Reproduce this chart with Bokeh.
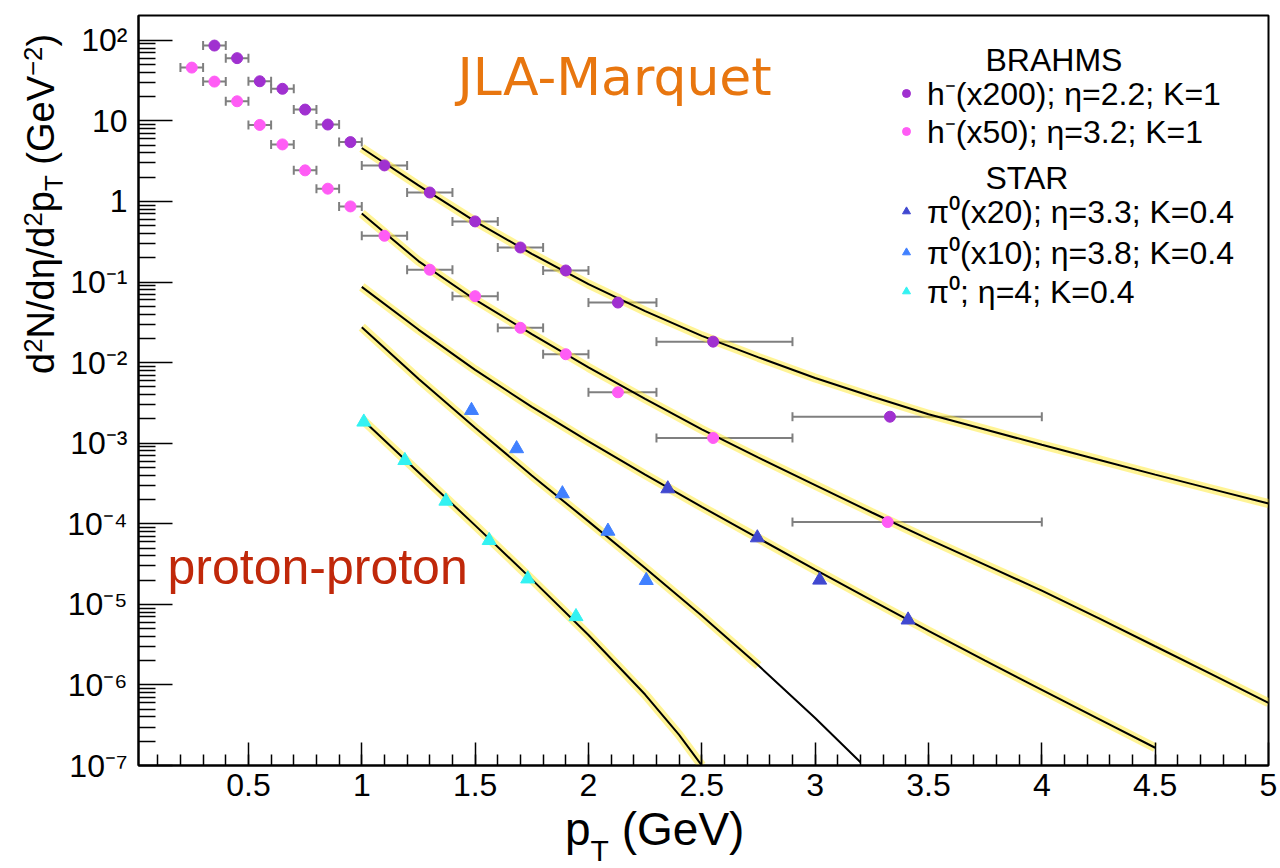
import numpy as np
from math import pi
from bokeh.plotting import figure
from bokeh.layouts import row, column
from bokeh.models import (Range1d, FixedTicker, NumeralTickFormatter, CustomJSTickFormatter,
                          ColumnDataSource, Whisker, TeeHead, Label, Legend, LegendItem, Div)
from bokeh.embed import file_html
from bokeh.resources import INLINE

# ---------------- data ----------------
# BRAHMS h- (x200), eta=2.2
h200_pt = [0.35, 0.45, 0.55, 0.65, 0.75, 0.85, 0.95, 1.1, 1.3, 1.5, 1.7, 1.9, 2.13, 2.55, 3.33]
h200_lo = [0.3, 0.4, 0.5, 0.6, 0.7, 0.8, 0.9, 1.0, 1.2, 1.4, 1.6, 1.8, 2.0, 2.3, 2.9]
h200_hi = [0.4, 0.5, 0.6, 0.7, 0.8, 0.9, 1.0, 1.2, 1.4, 1.6, 1.8, 2.0, 2.3, 2.9, 4.0]
h200_y = [86, 60, 31, 25, 13.8, 9.0, 5.45, 2.8, 1.29, 0.565, 0.268, 0.139, 0.0556, 0.0182, 0.00213]

# BRAHMS h- (x50), eta=3.2
h50_pt = [0.25, 0.35, 0.45, 0.55, 0.65, 0.75, 0.85, 0.95, 1.1, 1.3, 1.5, 1.7, 1.9, 2.13, 2.55, 3.32]
h50_lo = [0.2, 0.3, 0.4, 0.5, 0.6, 0.7, 0.8, 0.9, 1.0, 1.2, 1.4, 1.6, 1.8, 2.0, 2.3, 2.9]
h50_hi = [0.3, 0.4, 0.5, 0.6, 0.7, 0.8, 0.9, 1.0, 1.2, 1.4, 1.6, 1.8, 2.0, 2.3, 2.9, 4.0]
h50_y = [45.8, 30.7, 17.5, 8.9, 5.1, 2.43, 1.44, 0.867, 0.375, 0.142, 0.0667, 0.027, 0.0127, 0.00428, 0.00116, 1.05e-4]

# STAR pi0 (x20), eta=3.3
pi20_pt = [2.35, 2.745, 3.02, 3.41]
pi20_y = [2.72e-4, 6.7e-5, 2.0e-5, 6.4e-6]
# STAR pi0 (x10), eta=3.8
pi10_pt = [1.484, 1.683, 1.885, 2.086, 2.255]
pi10_y = [2.55e-3, 8.55e-4, 2.36e-4, 8.1e-5, 1.98e-5]
# STAR pi0, eta=4
pi1_pt = [1.009, 1.19, 1.371, 1.562, 1.732, 1.945]
pi1_y = [1.83e-3, 6.1e-4, 1.91e-4, 6.2e-5, 2.07e-5, 7.05e-6]

# theory curves (JLA-Marquet)
c1_x = [1.0, 1.25, 1.5, 1.75, 2.0, 2.25, 2.5, 2.75, 3.0, 3.25, 3.5, 3.75, 4.0, 4.25, 4.5, 4.75, 5.0]
c1_y = [4.6, 1.58, 0.565, 0.224, 0.0942, 0.0436, 0.0215, 0.0116, 0.00644, 0.0038, 0.00229,
        0.00148, 9.55e-4, 6.24e-4, 4.07e-4, 2.69e-4, 1.78e-4]
c2_x = [1.0, 1.25, 1.5, 1.75, 2.0, 2.25, 2.5, 2.75, 3.0, 3.25, 3.5, 3.75, 4.0, 4.25, 4.5, 4.75, 5.0]
c2_y = [0.708, 0.182, 0.0603, 0.0226, 8.7e-3, 3.55e-3, 1.48e-3, 6.6e-4, 3.02e-4, 1.38e-4, 6.46e-5,
        3.09e-5, 1.48e-5, 6.76e-6, 3.02e-6, 1.35e-6, 6.0e-7]
c3_x = [1.0, 1.25, 1.5, 1.75, 2.0, 2.25, 2.5, 2.75, 3.0, 3.25, 3.5, 3.75, 4.0, 4.25, 4.5]
c3_y = [0.087, 0.0257, 8.13e-3, 2.82e-3, 1.05e-3, 4.07e-4, 1.62e-4, 6.6e-5, 2.69e-5, 1.12e-5, 4.68e-6,
        2.0e-6, 8.7e-7, 3.8e-7, 1.66e-7]
c4_x = [1.0, 1.25, 1.5, 1.75, 2.0, 2.25, 2.5, 2.75, 3.0, 3.2]
c4_y = [0.0275, 6.3e-3, 1.55e-3, 3.98e-4, 1.07e-4, 2.82e-5, 7.24e-6, 1.74e-6, 3.89e-7, 1.1e-7]
c5_x = [1.0, 1.25, 1.5, 1.75, 2.0, 2.25, 2.4, 2.5]
c5_y = [2.0e-3, 4.37e-4, 9.55e-5, 2.04e-5, 4.17e-6, 7.6e-7, 2.4e-7, 1.0e-7]

x_major_ticks = [0.5, 1, 1.5, 2, 2.5, 3, 3.5, 4, 4.5, 5]
y_major_ticks = [1e-7, 1e-6, 1e-5, 1e-4, 1e-3, 1e-2, 1e-1, 1, 10, 100]

# ---------------- figure ----------------
FONT = "Liberation Sans"
p = figure(width=1218, height=812, y_axis_type="log",
           x_range=Range1d(0.015, 5.0), y_range=Range1d(1e-7, 203),
           output_backend="svg", toolbar_location=None, margin=0,
           min_border_left=76, min_border_right=12, min_border_top=15, min_border_bottom=47)
p.grid.visible = False
p.outline_line_color = "black"
p.outline_line_width = 2
p.background_fill_color = "white"
p.border_fill_color = "white"

x_minor = [round(0.1 * i, 1) for i in range(1, 50)]
p.xaxis.ticker = FixedTicker(ticks=x_major_ticks, minor_ticks=x_minor)
p.xaxis.formatter = NumeralTickFormatter(format="0.[0]")
p.xaxis.major_tick_in = 23
p.xaxis.major_tick_out = 0
p.xaxis.minor_tick_in = 11
p.xaxis.minor_tick_out = 0
p.xaxis.major_label_standoff = 8

y_minor = [m * 10.0 ** k for k in range(-7, 3) for m in range(2, 10) if m * 10.0 ** k < 200]
p.yaxis.ticker = FixedTicker(ticks=y_major_ticks, minor_ticks=y_minor)
p.yaxis.formatter = CustomJSTickFormatter(code="""
const e = Math.round(Math.log10(tick));
if (e === 0) return "1";
if (e === 1) return "10";
const m = {"-": "\\u207b", "0": "\\u2070", "1": "\\u00b9", "2": "\\u00b2", "3": "\\u00b3",
           "4": "\\u2074", "5": "\\u2075", "6": "\\u2076", "7": "\\u2077", "8": "\\u2078", "9": "\\u2079"};
return "10" + String(e).split("").map(c => m[c]).join("");
""")
p.yaxis.major_tick_in = 34
p.yaxis.major_tick_out = 0
p.yaxis.minor_tick_in = 17
p.yaxis.minor_tick_out = 0
p.yaxis.major_label_standoff = 11

for ax in (p.xaxis[0], p.yaxis[0]):
    ax.axis_line_color = "black"
    ax.axis_line_width = 2
    ax.major_tick_line_color = "black"
    ax.major_tick_line_width = 1.5
    ax.minor_tick_line_color = "black"
    ax.minor_tick_line_width = 1.5
    ax.major_label_text_font = FONT
    ax.major_label_text_font_size = "32px"
    ax.major_label_text_color = "black"
    ax.axis_label = None

# theory bands and curves
for cx, cy in [(c1_x, c1_y), (c2_x, c2_y), (c3_x, c3_y), (c4_x[:8], c4_y[:8]), (c5_x, c5_y)]:
    p.line(cx, cy, line_color="#FFEA2E", line_width=9, line_alpha=0.5)
for cx, cy in [(c1_x, c1_y), (c2_x, c2_y), (c3_x, c3_y), (c4_x, c4_y), (c5_x, c5_y)]:
    p.line(cx, cy, line_color="black", line_width=2)

# error bars
for pt, lo, hi, yy in [(h200_pt, h200_lo, h200_hi, h200_y), (h50_pt, h50_lo, h50_hi, h50_y)]:
    src = ColumnDataSource(dict(x=pt, lo=lo, hi=hi, y=yy))
    p.add_layout(Whisker(source=src, base="y", lower="lo", upper="hi", dimension="width",
                         line_color="#7F7F7F", line_width=2,
                         upper_head=TeeHead(size=9, line_color="#7F7F7F", line_width=2),
                         lower_head=TeeHead(size=9, line_color="#7F7F7F", line_width=2)))

r200 = p.scatter(h200_pt, h200_y, marker="circle", size=11, fill_color="#A030D0", line_color="#A030D0")
r50 = p.scatter(h50_pt, h50_y, marker="circle", size=11, fill_color="#FF5CF5", line_color="#FF5CF5")
r20 = p.scatter(pi20_pt, pi20_y, marker="triangle", size=14, fill_color="#4048D0", line_color="#4048D0")
r10 = p.scatter(pi10_pt, pi10_y, marker="triangle", size=14, fill_color="#4080FF", line_color="#4080FF")
r1 = p.scatter(pi1_pt, pi1_y, marker="triangle", size=14, fill_color="#33F2F2", line_color="#33F2F2")

# legends: one per entry, for exact row placement
def make_legend(label, rend, loc):
    lg = Legend(items=[LegendItem(label=label, renderers=[rend])], location=loc,
                glyph_width=20, glyph_height=20, label_standoff=11, label_height=36,
                spacing=0, padding=0, margin=0,
                border_line_alpha=0, background_fill_alpha=0,
                label_text_font=FONT, label_text_font_size="32px", label_text_color="black")
    p.add_layout(lg)

make_legend("h\u207b(x200); \u03b7=2.2; K=1", r200, (758, 651))
make_legend("h\u207b(x50); \u03b7=3.2; K=1", r50, (758, 613))
make_legend("\u03c0\u2070(x20); \u03b7=3.3; K=0.4", r20, (758, 533))
make_legend("\u03c0\u2070(x10); \u03b7=3.8; K=0.4", r10, (758, 492))
make_legend("\u03c0\u2070; \u03b7=4; K=0.4", r1, (758, 453))

def lab(text, x, y, size, color="black", font=FONT):
    p.add_layout(Label(x=x, y=y, x_units="screen", y_units="screen", text=text,
                       text_font=font, text_font_size=size, text_color=color,
                       text_align="left", text_baseline="middle"))

lab("BRAHMS", 847, 706, "32px")
lab("STAR", 847, 588, "32px")
lab("JLA-Marquet", 319, 689, "52px", color="#E8760F", font="DejaVu Sans")
lab("proton-proton", 29, 199, "50px", color="#C0280A")

# axis titles as HTML text (sub/superscripts)
SUP = "font-size:0.68em;vertical-align:0.48em"
SUB = "font-size:0.68em;vertical-align:-0.32em"
ytitle = Div(width=62, height=868, margin=0, text=(
    "<div style=\"position:relative;width:62px;height:868px;\">"
    "<div style=\"position:absolute;left:14px;top:374px;transform:rotate(-90deg);transform-origin:0 0;"
    "white-space:nowrap;font-family:'Liberation Sans';font-size:38px;line-height:38px;color:#000;\">"
    f"d<span style=\"{SUP}\">2</span>N/d&eta;/d<span style=\"{SUP}\">2</span>p<span style=\"{SUB}\">T</span>"
    f"&nbsp;(GeV<span style=\"{SUP}\">&minus;2</span>)</div></div>"))
xtitle = Div(width=1218, height=56, margin=0, text=(
    "<div style=\"position:relative;width:1218px;height:56px;\">"
    "<div style=\"position:absolute;left:503px;top:-6px;white-space:nowrap;"
    "font-family:'Liberation Sans';font-size:46px;line-height:46px;color:#000;\">"
    "p<span style=\"font-size:30px;vertical-align:-16px\">T</span>&nbsp;(GeV)</div></div>"))

layout = row(ytitle, column(p, xtitle, spacing=0), spacing=0)
open("out.html", "w").write(file_html(layout, INLINE))
